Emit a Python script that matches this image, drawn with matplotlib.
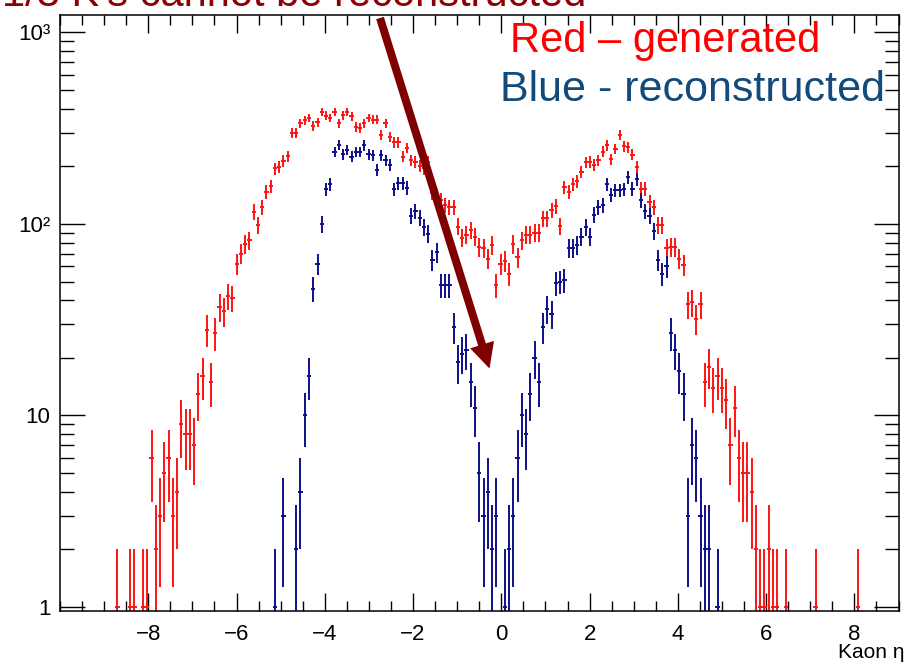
import numpy as np
import matplotlib
matplotlib.use('Agg')
import matplotlib.pyplot as plt
from matplotlib.patches import FancyArrow
from matplotlib.transforms import IdentityTransform
from matplotlib.ticker import FixedLocator, MultipleLocator, LogLocator, NullFormatter

plt.rcParams['font.family'] = ['Liberation Sans', 'DejaVu Sans']

# kaon pseudorapidity, 197 bins from -10 to 9
eta_lo, eta_hi, nbins = -10.0, 9.0, 197

# generated kaons (counts per bin)
gen_counts = [
    0, 0, 0, 0, 0, 0, 0, 0, 0, 0, 0, 0, 0, 1, 0, 0, 1, 1, 0, 1,
    1, 6, 2, 3, 5, 6, 3, 4, 9, 8, 8, 7, 13, 16, 28, 15, 27, 37, 35, 42,
    41, 62, 70, 79, 82, 116, 99, 122, 147, 158, 195, 198, 214, 226, 300, 300, 335, 349, 358, 325,
    340, 386, 368, 358, 386, 337, 370, 386, 365, 322, 317, 336, 358, 350, 350, 292, 336, 286, 267, 267,
    225, 250, 215, 211, 201, 195, 211, 145, 140, 133, 125, 122, 122, 97, 85, 88, 93, 86, 76, 75,
    66, 78, 48, 62, 64, 55, 79, 67, 82, 88, 88, 90, 90, 107, 107, 118, 124, 98, 156, 147,
    162, 168, 187, 210, 211, 204, 215, 239, 257, 218, 247, 293, 254, 252, 230, 199, 153, 153, 130, 122,
    99, 99, 75, 76, 76, 66, 61, 38, 39, 32, 38, 15, 18, 14, 16, 14, 12, 7, 11, 6,
    5, 5, 4, 2, 1, 1, 2, 1, 1, 0, 1, 0, 0, 0, 0, 0, 0, 1, 0, 0,
    0, 0, 0, 0, 0, 0, 0, 1, 0, 0, 0, 0, 0, 0, 0, 0, 0,
]

# reconstructed kaons (counts per bin)
rec_counts = [
    0, 0, 0, 0, 0, 0, 0, 0, 0, 0, 0, 0, 0, 0, 0, 0, 0, 0, 0, 0,
    0, 0, 0, 0, 0, 0, 0, 0, 0, 0, 0, 0, 0, 0, 0, 0, 0, 0, 0, 0,
    0, 0, 0, 0, 0, 0, 0, 0, 0, 0, 1, 0, 3, 0, 0, 2, 4, 10, 16, 46,
    62, 100, 152, 162, 238, 260, 231, 244, 225, 238, 238, 258, 232, 229, 191, 228, 215, 203, 152, 163,
    163, 155, 110, 117, 108, 96, 89, 65, 71, 48, 48, 48, 29, 19, 21, 22, 15, 11, 5, 3,
    4, 2, 3, 0, 1, 2, 3, 6, 10, 8, 13, 20, 15, 29, 36, 34, 49, 50, 51, 75,
    75, 78, 86, 96, 86, 112, 122, 125, 161, 142, 150, 150, 152, 175, 153, 171, 133, 117, 110, 92,
    65, 55, 60, 27, 22, 17, 13, 3, 7, 6, 3, 2, 2, 0, 1, 0, 0, 0, 0, 0,
    0, 0, 0, 0, 0, 0, 0, 0, 0, 0, 0, 0, 0, 0, 0, 0, 0, 0, 0, 0,
    0, 0, 0, 0, 0, 0, 0, 0, 0, 0, 0, 0, 0, 0, 0, 0, 0,
]

xticks = [-8, -6, -4, -2, 0, 2, 4, 6, 8]
yticks = [1, 10, 100, 1000]
ytick_labels = ['1', '10', '10\u00b2', '10\u00b3']

edges = np.linspace(eta_lo, eta_hi, nbins + 1)
centers = 0.5 * (edges[:-1] + edges[1:])


def draw_hist(ax, counts, color):
    # ROOT "E" style: sqrt(N) vertical bar plus a bin-wide horizontal bar
    n = np.asarray(counts, dtype=float)
    ok = n > 0
    err = np.sqrt(n[ok])
    ax.vlines(centers[ok], np.clip(n[ok] - err, 1e-3, None), n[ok] + err,
              color=color, lw=1.4, capstyle='butt')
    ax.hlines(n[ok], edges[:-1][ok], edges[1:][ok],
              color=color, lw=1.4, capstyle='butt')


fig = plt.figure(figsize=(9.09, 6.65), dpi=100)
ax = fig.add_axes([60 / 909, 54 / 665, 838.5 / 909, 596 / 665])

draw_hist(ax, gen_counts, '#ff1414')
draw_hist(ax, rec_counts, '#0f0f8a')

ax.set_yscale('log')
ax.set_xlim(eta_lo, eta_hi)
ax.set_ylim(0.953, 1234)

ax.xaxis.set_major_locator(FixedLocator(xticks))
ax.xaxis.set_minor_locator(MultipleLocator(0.5))
ax.yaxis.set_major_locator(FixedLocator(yticks))
ax.yaxis.set_major_formatter(plt.FixedFormatter(ytick_labels))
ax.yaxis.set_minor_locator(LogLocator(base=10, subs=range(2, 10)))
ax.yaxis.set_minor_formatter(NullFormatter())

ax.tick_params(which='both', direction='in', top=True, right=True, width=1.0, colors='black')
ax.tick_params(axis='x', which='major', length=13, pad=9, labelsize=16)
ax.tick_params(axis='x', which='minor', length=7)
ax.tick_params(axis='y', which='major', length=18, pad=7, labelsize=16)
ax.tick_params(axis='y', which='minor', length=10)
for sp in ax.spines.values():
    sp.set_linewidth(1.1)

fig.text(905 / 909, 1 - 652 / 665, 'Kaon \u03b7', ha='right', va='center', fontsize=15)

fig.text(510 / 909, 1 - 52 / 665, 'Red \u2013 generated', color='#ff0000',
         fontsize=30, va='baseline')
fig.text(500 / 909, 1 - 101 / 665, 'Blue - reconstructed', color='#124a7c',
         fontsize=31, va='baseline')
fig.text(2 / 909, 1 - 6 / 665, "1/3 K's cannot be reconstructed", color='#8b0000',
         fontsize=30, va='baseline')

# arrow pointing into the gap at eta ~ 0 (display pixels)
arrow = FancyArrow(380, 665 - 18, 109.5, -350.5, width=8, head_width=25, head_length=25,
                   length_includes_head=True, color='#7f0000', lw=0,
                   transform=IdentityTransform(), zorder=10)
fig.add_artist(arrow)

fig.savefig('out.png', dpi=100)
